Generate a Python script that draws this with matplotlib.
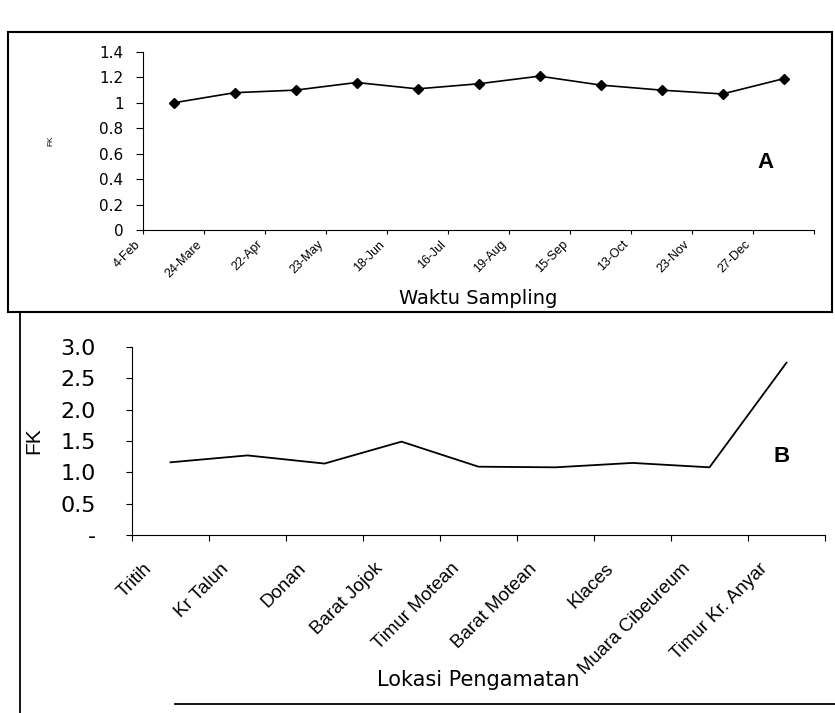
import numpy as np
import matplotlib.pyplot as plt
from matplotlib.lines import Line2D
from matplotlib.patches import Rectangle

plt.rcParams['font.family'] = ['Liberation Sans', 'DejaVu Sans']

# Panel A: FK per waktu sampling
tgl_labels = ['4-Feb', '24-Mare', '22-Apr', '23-May', '18-Jun', '16-Jul',
              '19-Aug', '15-Sep', '13-Oct', '23-Nov', '27-Dec']
fk_waktu = [1.00, 1.08, 1.10, 1.16, 1.11, 1.15, 1.21, 1.14, 1.10, 1.07, 1.19]

# Panel B: FK per lokasi pengamatan
lokasi = ['Tritih', 'Kr Talun', 'Donan', 'Barat Jojok', 'Timur Motean',
          'Barat Motean', 'Klaces', 'Muara Cibeureum', 'Timur Kr. Anyar']
fk_lokasi = [1.16, 1.27, 1.14, 1.49, 1.09, 1.08, 1.15, 1.08, 2.75]

W, H = 835, 713
fig = plt.figure(figsize=(W / 100, H / 100), dpi=100)
wide = ['DejaVu Sans']


def px(x0, y0, x1, y1):
    # pixel box (top-left origin) -> figure fraction rect
    return [x0 / W, 1 - y1 / H, (x1 - x0) / W, (y1 - y0) / H]


# ---- Panel A ----
axA = fig.add_axes(px(143, 52, 814, 230))
xa = np.arange(len(fk_waktu)) + 0.5
axA.plot(xa, fk_waktu, color='black', lw=1.2, marker='D', ms=5)
axA.set_xlim(0, len(fk_waktu))
axA.set_ylim(0, 1.4)
axA.set_yticks(np.arange(0, 1.41, 0.2))
axA.set_yticklabels(['0', '0.2', '0.4', '0.6', '0.8', '1', '1.2', '1.4'],
                    fontsize=11, family=wide)
axA.set_xticks(np.arange(len(fk_waktu) + 1))
axA.set_xticklabels(tgl_labels + [''], rotation=45, ha='right', va='top',
                    fontsize=9)
axA.spines['top'].set_visible(False)
axA.spines['right'].set_visible(False)
axA.tick_params(axis='y', direction='out', length=5, width=0.8, pad=9)
axA.tick_params(axis='x', direction='out', length=3, width=0.8, pad=3)
axA.set_ylabel('FK', fontsize=6, labelpad=32)
axA.set_xlabel('Waktu Sampling', fontsize=14, family=wide)
axA.xaxis.set_label_coords(0.5, -0.33)
axA.text(0.915, 0.35, 'A', transform=axA.transAxes, fontsize=16,
         fontweight='bold')

# ---- Panel B ----
axB = fig.add_axes(px(132, 347, 825, 535))
xb = np.arange(len(fk_lokasi)) + 0.5
axB.plot(xb, fk_lokasi, color='black', lw=1.3)
axB.set_xlim(0, len(fk_lokasi))
axB.set_ylim(0, 3.0)
axB.set_yticks(np.arange(0, 3.01, 0.5))
axB.set_yticklabels(['-', '0.5', '1.0', '1.5', '2.0', '2.5', '3.0'],
                    fontsize=16, family=wide)
axB.set_xticks(np.arange(len(fk_lokasi) + 1))
axB.set_xticklabels([])
axB.set_xticks(np.arange(len(fk_lokasi)) + 0.3, minor=True)
axB.set_xticklabels(lokasi, minor=True, rotation=45, ha='right', va='top',
                    fontsize=13.5)
axB.tick_params(which='minor', length=0, pad=18)
axB.tick_params(which='major', direction='out', length=4, width=0.8)
axB.tick_params(axis='y', pad=22)
axB.spines['top'].set_visible(False)
axB.spines['right'].set_visible(False)
axB.set_ylabel('FK', fontsize=15, labelpad=12)
axB.set_xlabel('Lokasi Pengamatan', fontsize=15, family=wide)
axB.xaxis.set_label_coords(0.5, -0.72)
axB.text(0.925, 0.39, 'B', transform=axB.transAxes, fontsize=16,
         fontweight='bold')

# ---- frames ----
x0, y0, w, h = px(8, 32, 832, 312)
fig.add_artist(Rectangle((x0, y0), w, h, transform=fig.transFigure,
                         fill=False, ec='black', lw=1.5))
fig.add_artist(Line2D([20 / W, 20 / W], [1 - 312 / H, 0], color='black',
                      lw=1.3, transform=fig.transFigure))
fig.add_artist(Line2D([175 / W, 1], [1 - 704 / H, 1 - 704 / H],
                      color='black', lw=1.3, transform=fig.transFigure))

fig.savefig('out.png', dpi=100)
